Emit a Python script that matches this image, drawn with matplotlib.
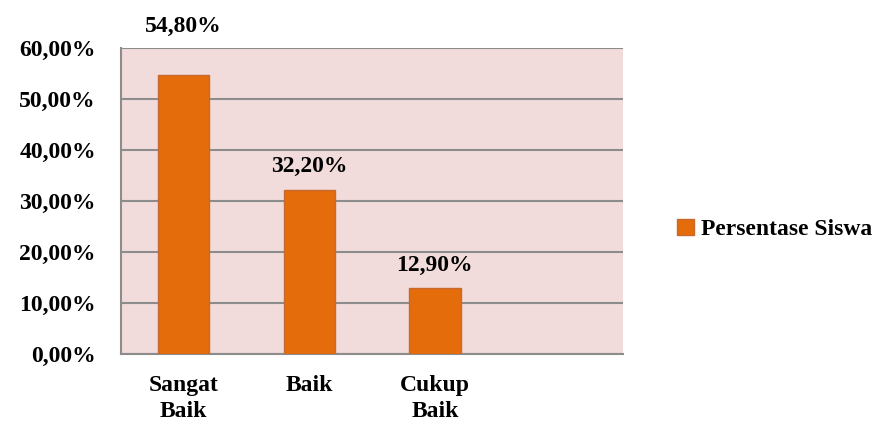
import matplotlib.pyplot as plt
from matplotlib.patches import Patch

categories = ["Sangat\nBaik", "Baik", "Cukup\nBaik", ""]
values = [54.8, 32.2, 12.9, None]
labels = ["54,80%", "32,20%", "12,90%"]
series_name = "Persentase Siswa"
yticks = [0, 10, 20, 30, 40, 50, 60]
ytick_labels = ["0,00%", "10,00%", "20,00%", "30,00%", "40,00%", "50,00%", "60,00%"]

plt.rcParams['font.family'] = ['Liberation Serif', 'DejaVu Serif']
plt.rcParams['font.weight'] = 'bold'

fig = plt.figure(figsize=(8.89, 4.25), dpi=100)
ax = fig.add_axes([0.136, 0.167, 0.565, 0.72])
ax.set_facecolor("#F2DCDB")

x = list(range(len(categories)))
bar_vals = [v for v in values if v is not None]
bars = ax.bar(x[:len(bar_vals)], bar_vals, width=0.41, color="#E46C0A",
              edgecolor="#C8692E", linewidth=1, zorder=3)

ax.set_xlim(-0.5, len(categories) - 0.5)
ax.set_ylim(0, 60)
ax.set_yticks(yticks)
ax.set_yticklabels(ytick_labels, fontsize=17, fontweight='bold')
ax.set_xticks(x)
ax.set_xticklabels(categories, fontsize=17, fontweight='bold', linespacing=1.3)
ax.tick_params(axis='y', length=0, pad=18)
ax.tick_params(axis='x', length=0, pad=15)

ax.yaxis.grid(True, color="#8C8C8C", linewidth=1.5, zorder=1)
for s in ["top", "right"]:
    ax.spines[s].set_visible(False)
ax.spines["left"].set_color("#8C8C8C")
ax.spines["left"].set_linewidth(1.5)
ax.spines["bottom"].set_color("#8C8C8C")
ax.spines["bottom"].set_linewidth(1.5)

offsets = [27, 9, 9]
for b, lab, off in zip(bars, labels, offsets):
    ax.annotate(lab, (b.get_x() + b.get_width() / 2, b.get_height()),
                xytext=(0, off), textcoords="offset points",
                ha="center", va="bottom", fontsize=17, fontweight='bold',
                annotation_clip=False)

handle = Patch(facecolor="#E46C0A", edgecolor="#C8692E")
fig.legend([handle], [series_name], loc="center left", bbox_to_anchor=(0.738, 0.46),
           frameon=False, prop={'weight': 'bold', 'size': 17},
           handlelength=0.7, handleheight=0.7, handletextpad=0.3)

fig.savefig("out.png", dpi=100)
